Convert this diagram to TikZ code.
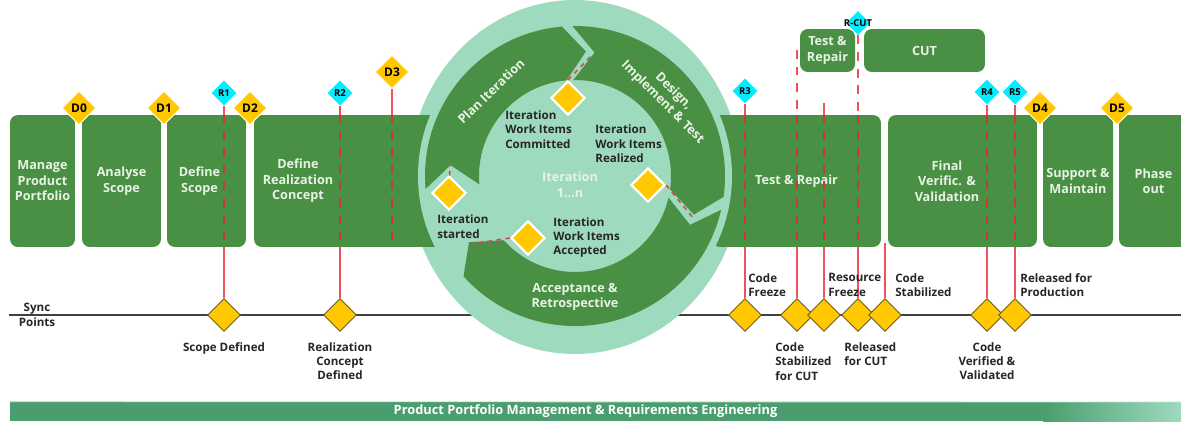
\documentclass[tikz,border=0pt]{standalone}
\usepackage{fontspec}
\setmainfont{Open Sans}
\usetikzlibrary{shapes.geometric, positioning}
\pgfdeclarelayer{back}
\pgfsetlayers{back,main}
\definecolor{boxgreen}{RGB}{74,144,68}
\definecolor{mint}{RGB}{158,218,190}
\definecolor{gold}{RGB}{255,200,0}
\definecolor{aqua}{RGB}{0,238,255}
\definecolor{pinkred}{RGB}{240,80,90}
\definecolor{darkred}{RGB}{200,58,52}
\definecolor{barcol}{RGB}{74,157,110}
\definecolor{paletxt}{RGB}{232,243,230}
\definecolor{syncedge}{RGB}{110,90,30}
\def\boxfont{\bfseries\fontsize{7.2}{8.8}\selectfont}
\def\msfont{\bfseries\fontsize{6.6}{8.2}\selectfont}
\def\gatefont{\bfseries\fontsize{6.8}{7}\selectfont}
\def\revfont{\bfseries\fontsize{5.4}{6}\selectfont}
% one arrow of the iteration ring: start angle, end angle
\newcommand{\ringseg}[2]{\fill[boxgreen] (#1:150) arc[start angle=#1, end angle=#2, radius=150]
  -- ({#2-10}:125) -- (#2:96) arc[start angle=#2, end angle=#1, radius=96] -- ({#1-10}:125) -- cycle;}
\tikzstyle{phase} = [rectangle, rounded corners=4.5pt, fill=boxgreen, text=paletxt, font=\boxfont, align=center, inner sep=0pt, minimum height=2.64cm]
\tikzstyle{phasetext} = [text=paletxt, font=\boxfont, align=center, inner sep=0pt]
\tikzstyle{gate} = [diamond, fill=gold, draw=white, line width=0.5pt, minimum size=0.68cm, inner sep=0pt, font=\gatefont]
\tikzstyle{review} = [diamond, fill=aqua, minimum size=0.5cm, inner sep=0pt, font=\revfont]
\tikzstyle{syncpt} = [diamond, fill=gold, draw=syncedge, line width=0.5pt, minimum size=0.66cm, inner sep=0pt]
\tikzstyle{iterpt} = [diamond, fill=gold, draw=white, line width=1.2pt, minimum size=0.68cm, inner sep=0pt]
\tikzstyle{mstxt} = [font=\msfont, text=black!85, align=left, inner sep=0pt]
\tikzstyle{solidred} = [pinkred, line width=1pt]
\tikzstyle{dashpink} = [pinkred, line width=1pt, dash pattern=on 5pt off 4.5pt]
\tikzstyle{dashred} = [darkred, line width=1pt, dash pattern=on 5pt off 4.5pt]
\tikzstyle{finedash} = [pinkred!90!black, line width=0.9pt, dash pattern=on 2.6pt off 2.6pt]
\tikzstyle{syncline} = [black!75, line width=0.9pt]
\begin{document}
\begin{tikzpicture}[x=0.02cm, y=-0.02cm]
  \useasboundingbox (0,0) rectangle (1181,423);
  \clip (0,0) rectangle (1181,423);

  \coordinate (syncL) at (9,315);
  \coordinate (syncR) at (1181,315);
  \begin{pgfonlayer}{back}
    \draw[syncline] (syncL) -- (syncR);
    \fill[mint] (575,177) ellipse [x radius=166, y radius=177];
  \end{pgfonlayer}

  % phases
  \node[phase, minimum width=1.30cm] (manage) at (42.5,181) {Manage\\Product\\Portfolio};
  \node[phase, minimum width=1.58cm] (analyse) at (121.5,181) {Analyse\\Scope};
  \node[phase, minimum width=1.58cm] (defscope) at (206.5,181) {};
  \node[phasetext] (defscopetxt) at (199.5,181) {Define\\Scope};
  \node[phase, minimum width=6.92cm] (defreal) at (427,181) {};
  \node[phasetext] (defrealtxt) at (298,181) {Define\\Realization\\Concept};
  \node[phase, minimum width=3.38cm] (testrep) at (796.5,181) {Test \& Repair};

  % iteration ring
  \fill[mint] (575,176) circle[radius=157];
  \begin{scope}[shift={(575,176)}, yscale=-1]
    \ringseg{185}{95}
    \ringseg{91}{-8}
    \ringseg{-13}{-138}
  \end{scope}
  \node[phasetext, rotate=44] (planlbl) at (491,91) {Plan Iteration};
  \node[phasetext, rotate=-45] (designlbl) at (668,97) {Design,\\Implement \& Test};
  \node[phasetext] (acclbl) at (575,297) {Acceptance \&\\Retrospective};
  \node[phasetext, text=white!70!mint] (itlbl) at (570,185) {Iteration\\1\dots n};

  \node[phase, minimum width=2.98cm] (finalv) at (962.5,181) {};
  \node[phasetext] (finalvtxt) at (947,181) {Final\\Verific. \&\\Validation};
  \node[phase, minimum width=1.40cm] (support) at (1078,181) {Support \&\\Maintain};
  \node[phase, minimum width=1.38cm] (phaseout) at (1153.5,181) {Phase\\out};
  \node[phase, minimum width=1.10cm, minimum height=0.86cm] (trsmall) at (827.5,50.5) {Test \&\\Repair};
  \node[phase, minimum width=2.42cm, minimum height=0.86cm] (cut) at (924.5,50.5) {CUT};

  % sync points
  \node[syncpt] (sScope) at (224,315) {};
  \node[syncpt] (sReal) at (340,315) {};
  \node[syncpt] (sFreeze) at (745,315) {};
  \node[syncpt] (sStabCut) at (797,315) {};
  \node[syncpt] (sResFreeze) at (824,315) {};
  \node[syncpt] (sRelCut) at (858,315) {};
  \node[syncpt] (sStab) at (885,315) {};
  \node[syncpt] (sVerif) at (987,315) {};
  \node[syncpt] (sProd) at (1015,315) {};

  % reviews and gates
  \node[review] (r1) at (224,93) {R1};
  \node[review] (r2) at (340,93) {R2};
  \node[review] (r3) at (745,91) {R3};
  \node[review] (r4) at (987,92) {R4};
  \node[review] (r5) at (1015,92) {R5};
  \node[review, minimum size=0.48cm, label={[font=\revfont]center:R-CUT}] (rcut) at (858,23) {};
  \node[gate] (d0) at (79,108) {D0};
  \node[gate] (d1) at (164,108) {D1};
  \node[gate] (d2) at (250,108) {D2};
  \node[gate] (d3) at (392,72) {D3};
  \node[gate] (d4) at (1040,108) {D4};
  \node[gate] (d5) at (1117,108) {D5};
  \coordinate (tr5top) at (797,50);
  \coordinate (rf) at (824,103);
  \coordinate (cs) at (885,243);

  % review lines: solid outside the phases, dashed across them
  \draw[solidred] (r1) -- (r1 |- defscope.north) (r1 |- defscope.south) -- (sScope);
  \draw[dashred] (r1 |- defscope.north) -- (r1 |- defscope.south);
  \draw[solidred] (r2) -- (r2 |- defreal.north) (r2 |- defreal.south) -- (sReal);
  \draw[dashred] (r2 |- defreal.north) -- (r2 |- defreal.south);
  \draw[solidred] (d3) -- (d3 |- defreal.north);
  \draw[dashred] (d3 |- defreal.north) -- (d3 |- defreal.south);
  \draw[solidred] (r3) -- (r3 |- testrep.north) (r3 |- testrep.south) -- (sFreeze);
  \draw[dashred] (r3 |- testrep.north) -- (r3 |- testrep.south);
  \draw[dashpink] (tr5top) -- (tr5top |- testrep.north);
  \draw[dashred] (tr5top |- testrep.north) -- (tr5top |- testrep.south);
  \draw[solidred] (sStabCut |- testrep.south) -- (sStabCut);
  \draw[solidred] (rf) -- (rf |- testrep.north) (rf |- testrep.south) -- (sResFreeze);
  \draw[dashred] (rf |- testrep.north) -- (rf |- testrep.south);
  \draw[dashpink] (rcut) -- (rcut |- testrep.north);
  \draw[dashred] (rcut |- testrep.north) -- (rcut |- testrep.south);
  \draw[solidred] (sRelCut |- testrep.south) -- (sRelCut);
  \draw[solidred] (cs) -- (sStab);
  \draw[solidred] (r4) -- (r4 |- finalv.north) (r4 |- finalv.south) -- (sVerif);
  \draw[dashred] (r4 |- finalv.north) -- (r4 |- finalv.south);
  \draw[solidred] (r5) -- (r5 |- finalv.north) (r5 |- finalv.south) -- (sProd);
  \draw[dashred] (r5 |- finalv.north) -- (r5 |- finalv.south);

  % iteration milestones
  \node[iterpt] (itstart) at (449,193) {};
  \node[iterpt] (itcommit) at (568,98) {};
  \node[iterpt] (itreal) at (648,185) {};
  \node[iterpt] (itacc) at (528,238) {};
  \coordinate (plannotch) at (450,164);
  \coordinate (designnotch) at (591,56);
  \coordinate (designtip) at (694,219);
  \coordinate (acctip) at (471,244);
  \draw[finedash] (itstart) -- (plannotch);
  \draw[finedash] (itcommit.north) -- (designnotch);
  \draw[finedash] (itreal.east) -- (designtip);
  \draw[finedash] (itacc.west) -- (acctip);
  \node[mstxt, anchor=west] (lstart) at (437,226.5) {Iteration\\started};
  \node[mstxt, anchor=west] (lcommit) at (505,129.5) {Iteration\\Work Items\\Committed};
  \node[mstxt, anchor=west] (lreal) at (595,144) {Iteration\\Work Items\\Realized};
  \node[mstxt, anchor=west] (lacc) at (553,237.5) {Iteration\\Work Items\\Accepted};

  % sync point labels
  \node[mstxt, align=center] (synclbl) at (37,315) {Sync\\Points};
  \node[mstxt, align=center, below=0.2cm of sScope] (lscope) {Scope Defined};
  \node[mstxt, align=center, below=0.2cm of sReal] (lreal2) {Realization\\Concept\\Defined};
  \node[mstxt, anchor=west] (lfreeze) at (748,285) {Code\\Freeze};
  \node[mstxt, anchor=west] (lstabcut) at (775,361.5) {Code\\Stabilized\\for CUT};
  \node[mstxt, anchor=west] (lresfreeze) at (828,285) {Resource\\Freeze};
  \node[mstxt, anchor=west] (lrelcut) at (844,354) {Released\\for CUT};
  \node[mstxt, anchor=west] (lstab) at (895,285) {Code\\Stabilized};
  \node[mstxt, align=center, below=0.2cm of sVerif] (lverif) {Code\\Verified \&\\Validated};
  \node[mstxt, anchor=west] (lprod) at (1020,285) {Released for\\Production};

  % bottom bar
  \node[fill=barcol, minimum width=23.02cm, minimum height=0.38cm, inner sep=0pt, text=white, font=\bfseries\fontsize{7.3}{8}\selectfont] (ppme) at (585.5,411.5) {Product Portfolio Management \& Requirements Engineering};
  \shade[left color=barcol, right color=mint] (1043,402) rectangle (1181,421);
  \draw[mint!70!white, line width=0.5pt] (ppme.north west) -- (1181,402);
\end{tikzpicture}
\end{document}
